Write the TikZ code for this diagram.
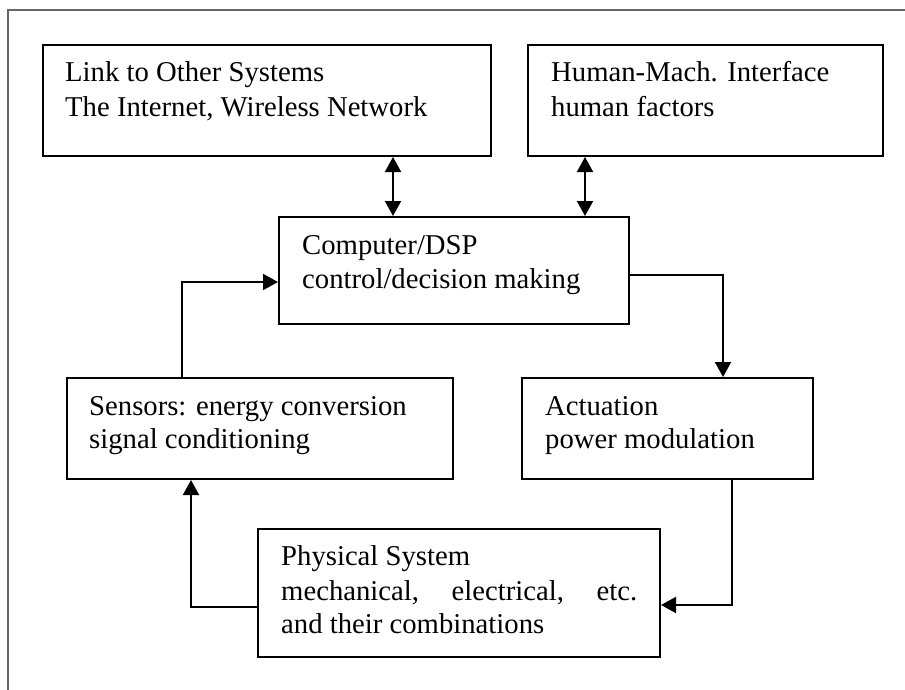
\documentclass[tikz,border=0pt]{standalone}
\usepackage{fontspec}
\setmainfont{Liberation Serif}
\usetikzlibrary{arrows.meta}
\begin{document}
\begin{tikzpicture}[x=1pt,y=-1pt,
  box/.style={draw=black, line width=2pt, rectangle, inner sep=0pt, anchor=north west},
  txt/.style={anchor=base west, inner sep=0pt, font=\fontsize{28.7pt}{34pt}\selectfont, text=black},
  conn/.style={draw=black, line width=2pt},
  tip/.style={-{Triangle[length=15pt,width=16pt]}},
  dtip/.style={{Triangle[length=15pt,width=16pt]}-{Triangle[length=15pt,width=16pt]}},
  frame/.style={draw=black!60, line width=1.2pt}]
\useasboundingbox (0,0) rectangle (905,690);
\coordinate (f1) at (8,690);
\coordinate (f2) at (8,10);
\coordinate (f3) at (905,10);
\draw[frame] (f1) -- (f2) -- (f3);
% boxes
\node[box, minimum width=448pt, minimum height=111pt] (link) at (42,44) {};
\node[box, minimum width=355pt, minimum height=111pt] (hmi) at (527,44) {};
\node[box, minimum width=350pt, minimum height=107pt] (comp) at (278,216) {};
\node[box, minimum width=386pt, minimum height=101pt] (sens) at (66,377) {};
\node[box, minimum width=291pt, minimum height=101pt] (act) at (521,377) {};
\node[box, minimum width=402pt, minimum height=128pt] (phys) at (257,528) {};
% texts
\node[txt] (link1) at ([xshift=23pt,yshift=-38pt]link.north west) {Link to Other Systems};
\node[txt] (link2) at ([xshift=23pt,yshift=-73pt]link.north west) {The Internet, Wireless Network};
\node[txt] (hmi1) at ([xshift=24pt,yshift=-38pt]hmi.north west) {Human-Mach. Interface};
\node[txt] (hmi2) at ([xshift=24pt,yshift=-73pt]hmi.north west) {human factors};
\node[txt] (comp1) at ([xshift=24pt,yshift=-38pt]comp.north west) {Computer/DSP};
\node[txt] (comp2) at ([xshift=24pt,yshift=-72pt]comp.north west) {control/decision making};
\node[txt] (sens1) at ([xshift=23pt,yshift=-38pt]sens.north west) {Sensors: energy conversion};
\node[txt] (sens2) at ([xshift=23pt,yshift=-71pt]sens.north west) {signal conditioning};
\node[txt] (act1) at ([xshift=24pt,yshift=-38pt]act.north west) {Actuation};
\node[txt] (act2) at ([xshift=24pt,yshift=-71pt]act.north west) {power modulation};
\node[txt] (phys1) at ([xshift=24pt,yshift=-37pt]phys.north west) {Physical System};
\node[txt] (phys2) at ([xshift=24pt,yshift=-72pt]phys.north west) {\makebox[356pt][s]{mechanical,\hfill electrical,\hfill etc.}};
\node[txt] (phys3) at ([xshift=24pt,yshift=-105pt]phys.north west) {and their combinations};
% connectors
\draw[conn, dtip] (link.south -| 393,0) -- (comp.north -| 393,0);
\draw[conn, dtip] (hmi.south -| 585,0) -- (comp.north -| 585,0);
\coordinate (c1) at (723,275);
\draw[conn, tip] (comp.east |- c1) -- (c1) -- (act.north -| c1);
\coordinate (c2) at (732,605);
\draw[conn, tip] (act.south -| c2) -- (c2) -- (phys.east |- c2);
\coordinate (c3) at (191,607);
\draw[conn, tip] (phys.west |- c3) -- (c3) -- (sens.south -| c3);
\coordinate (c4) at (182,282);
\draw[conn, tip] (sens.north -| c4) -- (c4) -- (comp.west |- c4);
\end{tikzpicture}
\end{document}
